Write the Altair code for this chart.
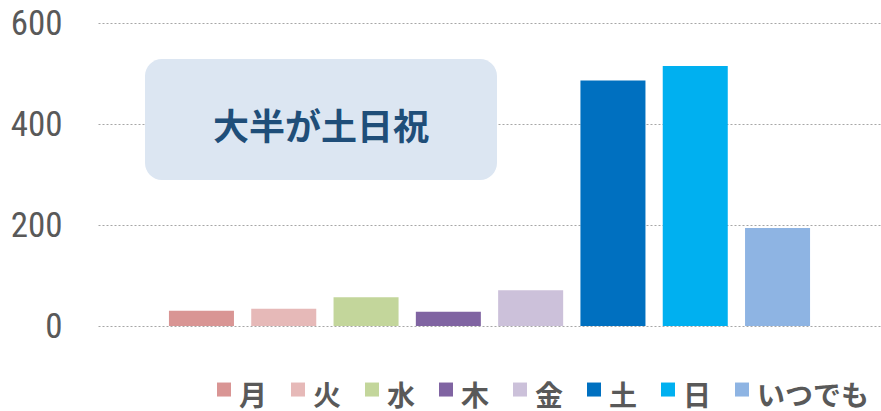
import altair as alt
import pandas as pd

days = ["月", "火", "水", "木", "金", "土", "日", "いつでも"]
values = [30, 34, 57, 28, 71, 486, 515, 194]
colors = ["#D99594", "#E6B9B8", "#C3D69B", "#8064A2", "#CCC1DA", "#0070C0", "#00B0F0", "#8EB4E3"]
y_ticks = [0, 200, 400, 600]
note = "大半が土日祝"

df = pd.DataFrame({"day": days, "value": values})

bars = alt.Chart(df).mark_bar().encode(
    x=alt.X("day:N", sort=days, axis=None,
            scale=alt.Scale(paddingInner=0.21, paddingOuter=0.862)),
    y=alt.Y("value:Q", scale=alt.Scale(domain=[0, 600], nice=False),
            axis=alt.Axis(values=y_ticks, title=None, ticks=False, domain=False,
                          labelPadding=36, labelFontSize=35, labelColor="#595959",
                          labelFont="Liberation Sans Narrow, Roboto Condensed, Roboto",
                          grid=True, gridColor="#A6A6A6", gridDash=[2, 2], gridWidth=1)),
    color=alt.Color("day:N", sort=days,
                    scale=alt.Scale(domain=days, range=colors),
                    legend=alt.Legend(title=None, orient="none", direction="horizontal",
                                      legendX=112, legendY=347,
                                      symbolType="M-1,-0.21H1V1.79H-1Z",
                                      symbolSize=196, symbolStrokeWidth=0, symbolOpacity=1,
                                      labelFontSize=28, labelFontWeight="bold",
                                      labelColor="#595959", labelFont="Noto Sans CJK JP",
                                      labelOffset=1, columnPadding=16, padding=0,
                                      labelBaseline="top", labelLimit=200)),
)

box = alt.Chart(pd.DataFrame({"t": [note]})).mark_rect(
    color="#DCE6F2", cornerRadius=17
).encode(x=alt.value(47), x2=alt.value(399), y=alt.value(36), y2=alt.value(157))

label = alt.Chart(pd.DataFrame({"t": [note]})).mark_text(
    font="Noto Sans CJK JP", fontSize=36, fontWeight="bold", color="#1F4E79",
    align="center", baseline="middle"
).encode(x=alt.value(223), y=alt.value(106), text="t:N")

chart = alt.layer(bars, box, label).properties(
    width=783, height=303,
    autosize=alt.AutoSizeParams(type="none"),
    padding={"left": 98, "top": 23, "right": 0, "bottom": 85},
).configure_view(stroke=None)

chart.save("out.html", embed_options={"renderer": "svg", "actions": False})
